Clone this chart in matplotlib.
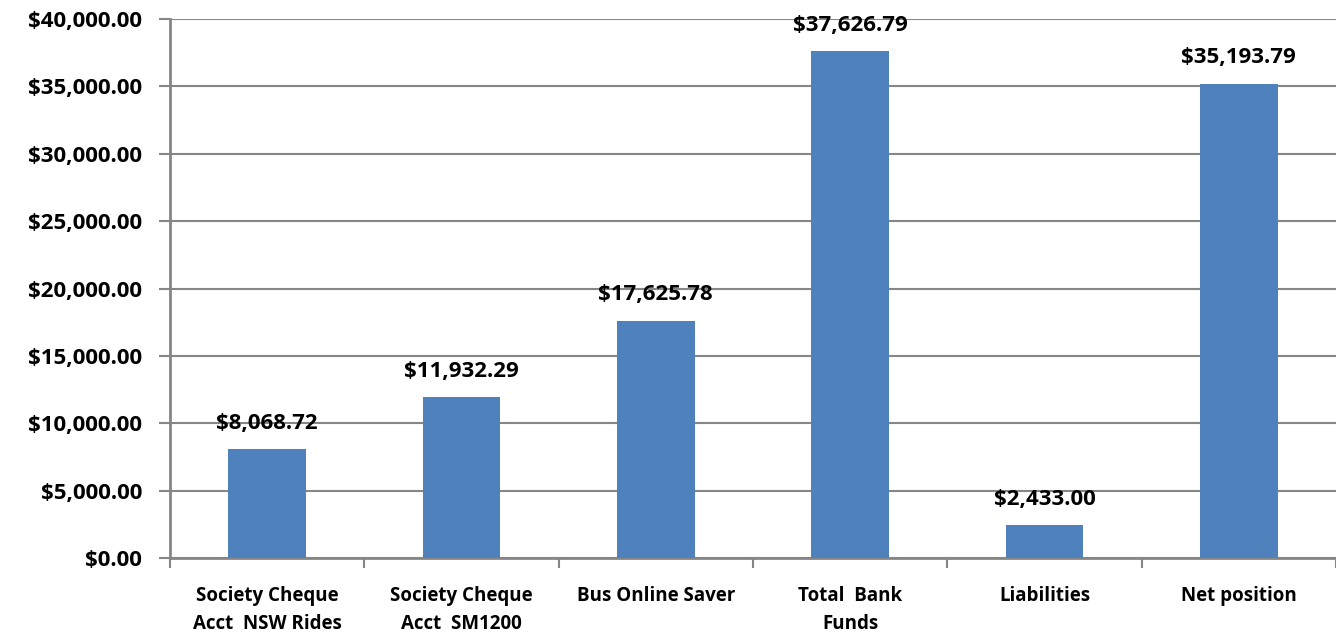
import matplotlib
matplotlib.use('Agg')
import matplotlib.pyplot as plt
from matplotlib.ticker import FuncFormatter, FixedLocator

plt.rcParams['font.family'] = ['Open Sans', 'DejaVu Sans']
plt.rcParams['font.weight'] = 'bold'

categories = ['Society Cheque\nAcct  NSW Rides', 'Society Cheque\nAcct  SM1200',
              'Bus Online Saver', 'Total  Bank\nFunds', 'Liabilities', 'Net position']
values = [8068.72, 11932.29, 17625.78, 37626.79, 2433.00, 35193.79]

bar_color = '#4F81BD'
axis_color = '#868686'
num_fs = 16
cat_fs = 13.5

fig = plt.figure(figsize=(13.36, 6.42), dpi=100)
ax = fig.add_axes([0.1272, 0.1308, 0.8728, 0.8396])

x = list(range(len(categories)))
ax.bar(x, values, width=0.4, color=bar_color, zorder=3)

for xi, v in zip(x, values):
    ax.annotate('${:,.2f}'.format(v), (xi, v), xytext=(0, 11), textcoords='offset points',
                ha='center', va='bottom', fontsize=num_fs, fontweight='bold')

ax.set_xlim(-0.5, len(categories) - 0.5)
ax.set_ylim(0, 40000)
ax.set_yticks(range(0, 40001, 5000))
ax.yaxis.set_major_formatter(FuncFormatter(lambda v, p: '${:,.2f}'.format(v)))
ax.grid(axis='y', color=axis_color, linewidth=1.5, zorder=0)

# category labels centred, tick marks at category boundaries
ax.set_xticks(x)
ax.set_xticklabels(categories, fontsize=cat_fs, fontweight='bold', linespacing=1.55)
ax.tick_params(axis='x', length=0, pad=20)
ax.xaxis.set_minor_locator(FixedLocator([i - 0.5 for i in range(len(categories) + 1)]))
ax.tick_params(axis='x', which='minor', length=7, width=1.5, color=axis_color)
ax.tick_params(axis='y', length=8, width=1.5, color=axis_color, labelsize=num_fs, pad=12)
for lbl in ax.get_yticklabels():
    lbl.set_fontweight('bold')

for side in ['top', 'right']:
    ax.spines[side].set_visible(False)
for side in ['left', 'bottom']:
    ax.spines[side].set_color(axis_color)
    ax.spines[side].set_linewidth(2)

fig.savefig('out.png', dpi=100)
